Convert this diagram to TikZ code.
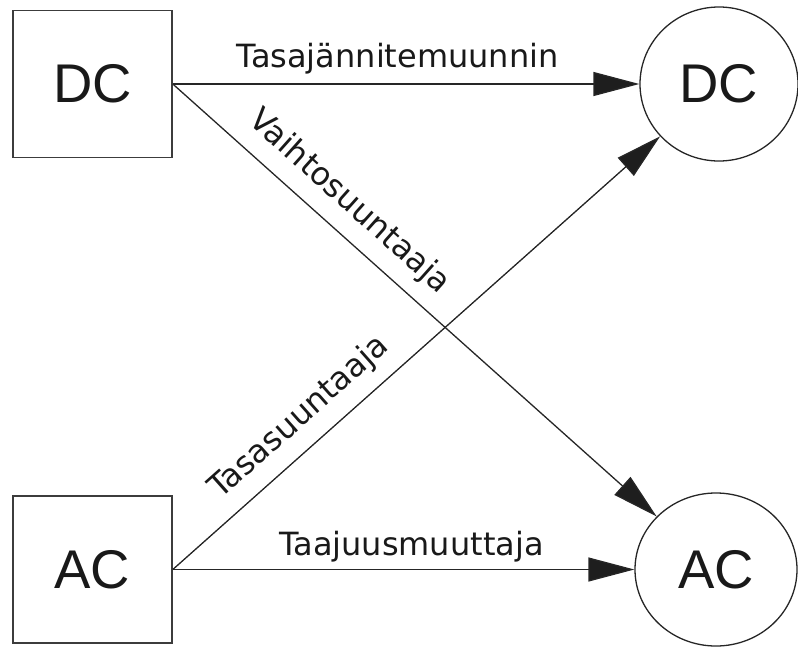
\documentclass[tikz,border=0pt]{standalone}
\usepackage{fontspec}
\setmainfont{Liberation Sans}
\newfontfamily\edgefont{DejaVu Sans}
\usetikzlibrary{arrows.meta,shapes.geometric}
\definecolor{boxgray}{HTML}{3C3C3C}
\definecolor{linegray}{HTML}{262626}
\definecolor{tipgray}{HTML}{1E1E1E}
\begin{document}
\begin{tikzpicture}[x=1pt,y=-1pt,
  source/.style={draw=boxgray, line width=1.6pt, rectangle, inner sep=0pt,
    minimum width=159pt, minimum height=147pt,
    font=\fontsize{54.5}{60}\selectfont, text=black!90},
  target/.style={draw=linegray, line width=1.3pt, ellipse, inner sep=0pt,
    font=\fontsize{54.5}{60}\selectfont, text=black!90},
  conv/.style={draw=linegray, line width=1.3pt,
    -{Triangle[length=46pt,width=24pt,fill=tipgray]}},
  convlabel/.style={font=\edgefont\fontsize{32}{38}\selectfont, text=black!90,
    inner sep=0pt, anchor=south}
]
\useasboundingbox (0,0) rectangle (798,648);

% sources on the left, targets on the right
\node[source] (dcin) at (92.5,84) {DC};
\node[source] (acin) at (92.5,569.5) {AC};
\node[target, minimum width=158pt, minimum height=154pt] (dcout) at (719,84) {DC};
\node[target, minimum width=162pt, minimum height=153pt] (acout) at (716,569.5) {AC};

% converters
\draw[conv] (dcin.east) -- node[convlabel, pos=0.482, outer sep=10.3pt] {Tasajännitemuunnin} (dcout.west);
\draw[conv] (dcin.east) -- node[convlabel, pos=0.324, sloped, outer sep=14pt] {Vaihtosuuntaaja} (acout);
\draw[conv] (acin.east) -- node[convlabel, pos=0.30, sloped, outer sep=14pt] {Tasasuuntaaja} (dcout);
\draw[conv] (acin.east) -- node[convlabel, pos=0.517, outer sep=7.8pt] {Taajuusmuuttaja} (acout.west);
\end{tikzpicture}
\end{document}
